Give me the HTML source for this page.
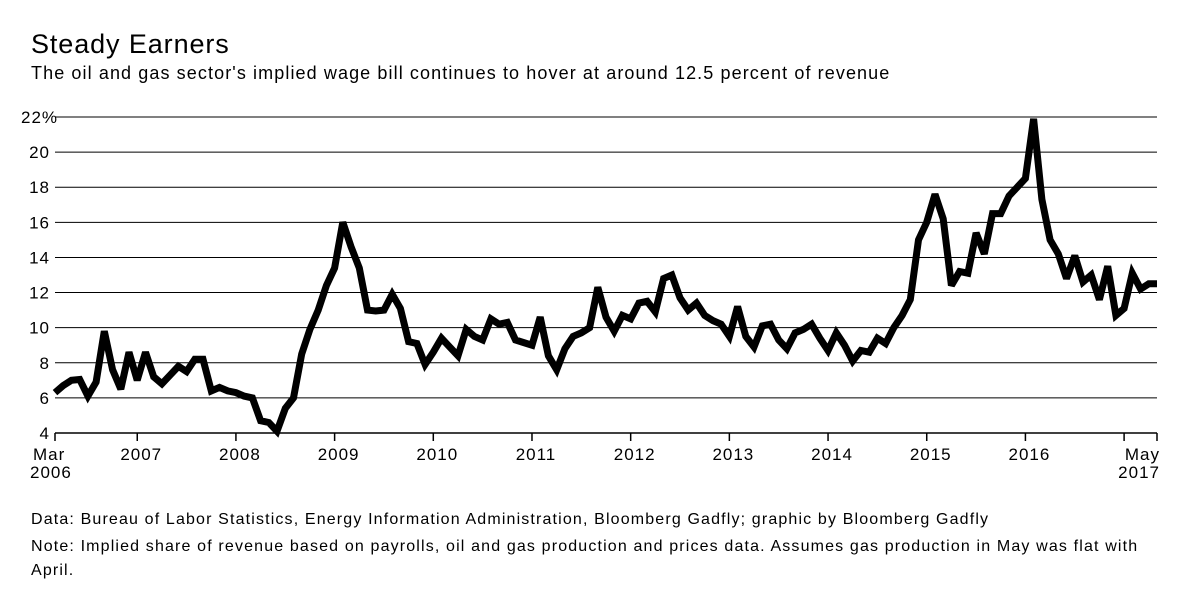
<!DOCTYPE html>
<html><head><meta charset="utf-8">
<style>
body{margin:0;background:#fff;font-family:"Liberation Sans",sans-serif;color:#000;}
#wrap{position:relative;width:1200px;height:613px;overflow:hidden;}
.t{position:absolute;white-space:nowrap;}
</style></head>
<body>
<div id="wrap">
<div class="t" style="left:31px;top:29px;font-size:27px;letter-spacing:0.9px;">Steady Earners</div>
<div class="t" style="left:31px;top:63px;font-size:18px;letter-spacing:1.1px;">The oil and gas sector's implied wage bill continues to hover at around 12.5 percent of revenue</div>
<svg id="chart" width="1200" height="613" style="position:absolute;left:0;top:0;"></svg>
<div class="t" style="left:31px;top:511px;font-size:16px;letter-spacing:1.15px;">Data: Bureau of Labor Statistics, Energy Information Administration, Bloomberg Gadfly; graphic by Bloomberg Gadfly</div>
<div class="t" style="left:31px;top:535px;font-size:16px;letter-spacing:1.15px;line-height:24px;white-space:normal;width:1150px;">Note: Implied share of revenue based on payrolls, oil and gas production and prices data. Assumes gas production in May was flat with April.</div>
</div>
<script>
const values = [6.3,6.7,7.0,7.05,6.1,6.9,9.8,7.6,6.5,8.6,
7.0,8.6,7.2,6.8,7.3,7.8,7.5,8.2,8.2,6.4,6.6,6.4,
6.3,6.1,6.0,4.7,4.6,4.1,5.4,6.0,8.5,9.9,11.0,12.4,
13.4,16.0,14.6,13.4,11.0,10.95,11.0,11.9,11.1,9.2,9.1,7.9,
8.6,9.4,8.9,8.4,9.9,9.5,9.3,10.5,10.2,10.3,9.3,9.15,
9.0,10.6,8.4,7.6,8.8,9.5,9.7,10.0,12.3,10.6,9.8,10.7,
10.5,11.4,11.5,10.9,12.8,13.0,11.7,11.0,11.4,10.7,10.4,10.2,
9.5,11.2,9.5,8.9,10.1,10.2,9.3,8.8,9.7,9.9,10.2,9.4,
8.7,9.7,9.0,8.1,8.7,8.6,9.4,9.1,10.0,10.7,11.6,15.0,
16.0,17.6,16.2,12.4,13.2,13.1,15.4,14.2,16.5,16.5,17.5,18.0,
18.5,21.9,17.3,15.0,14.2,12.8,14.1,12.6,13.0,11.6,13.5,10.7,
11.1,13.1,12.2,12.5,12.5];
const yTicks = [4,6,8,10,12,14,16,18,20,22];
const yTickLabels = ["4","6","8","10","12","14","16","18","20","22%"];
const xTickMonths = [0,10,22,34,46,58,70,82,94,106,118,130,134];
const xTickLabels = ["Mar","2007","2008","2009","2010","2011","2012","2013","2014","2015","2016","","May"];

const X0=55,X1=1157,Y0=433,Y1=117,VMIN=4,VMAX=22,N=134;
const xs=m=>X0+(X1-X0)*m/N;
const ys=v=>Y0-(Y0-Y1)*(v-VMIN)/(VMAX-VMIN);
const svg=document.getElementById('chart');
const NS='http://www.w3.org/2000/svg';
function mk(tag,attrs){const e=document.createElementNS(NS,tag);for(const k in attrs)e.setAttribute(k,attrs[k]);svg.appendChild(e);return e;}
const FONT={'font-size':17,'letter-spacing':1,'font-family':'Liberation Sans, sans-serif'};
function txt(attrs){return mk('text',Object.assign({},FONT,attrs));}

yTicks.forEach((v,i)=>{
  if(v!==VMIN){
    const g=mk('line',{x1:X0,x2:X1,y1:ys(v),y2:ys(v),stroke:'#000','stroke-width':1});
    
    
  }
  const last=i===yTicks.length-1;
  const t=txt({x:last?21:50,y:ys(v)+6,'text-anchor':last?'start':'end'});
  t.textContent=yTickLabels[i];
  
  
});
const ax=mk('line',{x1:X0,x2:X1,y1:Y0,y2:Y0,stroke:'#000','stroke-width':1.5});


xTickMonths.forEach((m,i)=>{
  const tk=mk('line',{x1:xs(m),x2:xs(m),y1:Y0,y2:Y0+8,stroke:'#000','stroke-width':1.5});
  
  
  if(xTickLabels[i]){
    const anchor=i===0?'start':(m===N?'end':'middle');
    const xx=i===0?33:(m===N?1160:xs(m)+4);
    const t=txt({x:xx,y:460,'text-anchor':anchor});
    t.textContent=xTickLabels[i];
    
    
  }
});
const y1=txt({x:30,y:478});
y1.textContent='2006';


const y2=txt({x:1160,y:478,'text-anchor':'end'});
y2.textContent='2017';



const pts=values.map((v,i)=>xs(i).toFixed(1)+','+ys(v).toFixed(1)).join(' ');
const pl=mk('polyline',{points:pts,fill:'none',stroke:'#000','stroke-width':7,'stroke-linejoin':'miter','stroke-miterlimit':3});


</script>
</body></html>
